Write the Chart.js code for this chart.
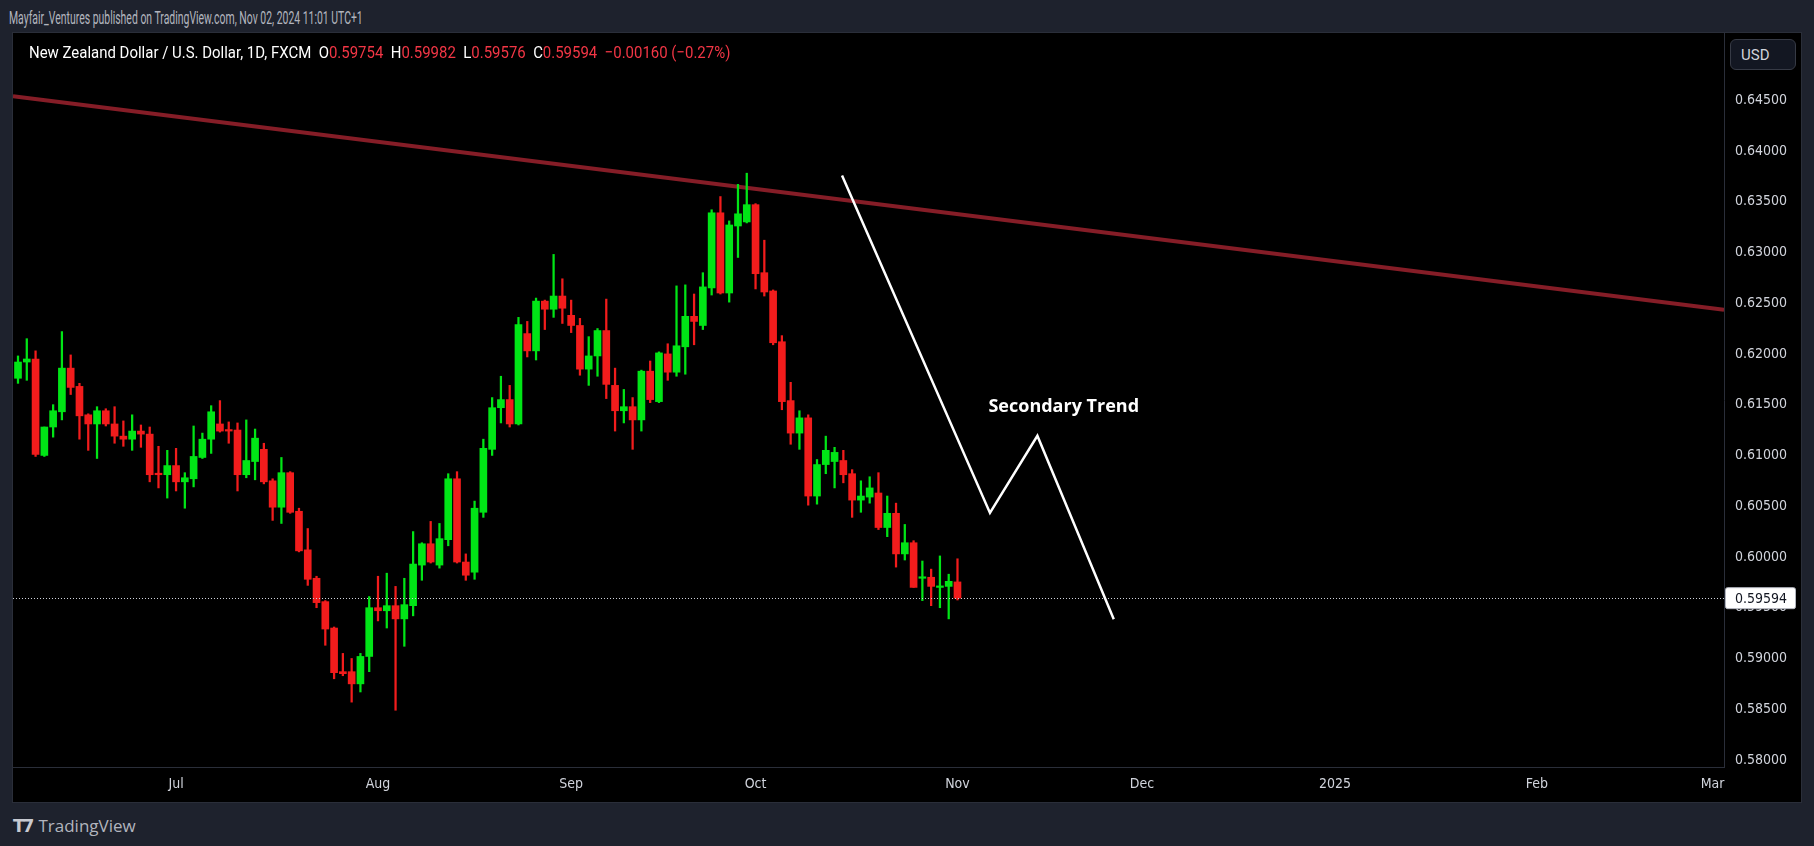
<!DOCTYPE html>
<html><head><meta charset="utf-8">
<script src="https://cdn.jsdelivr.net/npm/chart.js@4.4.1/dist/chart.umd.min.js"></script>
<style>
html,body{margin:0;padding:0;background:#1e222d;width:1814px;height:846px;overflow:hidden;font-family:'Roboto','DejaVu Sans',sans-serif;}
#hdr{position:absolute;left:9px;top:7px;color:#b2b5be;font-size:18px;transform:scaleX(0.58);transform-origin:0 0;white-space:nowrap;}
#panel{position:absolute;left:13px;top:33px;width:1788px;height:769px;background:#000;box-shadow:0 0 0 1px #2a2e39;}
#legend{position:absolute;left:16px;top:9px;color:#fff;font-size:17px;z-index:2;white-space:pre;transform:scaleX(0.88);transform-origin:0 0;}
#legend .r{color:#f23645;}
#usd{position:absolute;left:1717px;top:6px;width:66px;height:31px;border:1px solid #363a45;border-radius:6px;background:#131722;color:#d1d4dc;font-size:15px;line-height:31px;padding-left:10px;box-sizing:border-box;z-index:2;}
#tv{position:absolute;left:13px;top:814px;color:#b2b5be;font-size:17px;font-family:'Open Sans','Roboto',sans-serif;}
#tv b{font-family:'DejaVu Sans',sans-serif;font-weight:900;color:#c7cad1;letter-spacing:-2px;margin-right:6px;}
canvas{position:absolute;left:0;top:0;}
</style></head><body>
<div id="hdr">Mayfair_Ventures published on TradingView.com, Nov 02, 2024 11:01 UTC+1</div>
<div id="panel">
<div id="legend">New Zealand Dollar / U.S. Dollar, 1D, FXCM  O<span class="r">0.59754</span>  H<span class="r">0.59982</span>  L<span class="r">0.59576</span>  C<span class="r">0.59594</span>  <span class="r">−0.00160 (−0.27%)</span></div>
<div id="usd">USD</div>
<canvas id="c" width="1788" height="769"></canvas>
</div>
<div id="tv"><b>T7</b>TradingView</div>
<script>
const opens=[.6176,.6192,.6195,.6100,.6128,.6143,.6186,.6168,.6140,.6131,.6144,.6131,.6119,.6116,.6124,.6121,.6082,.6081,.6090,.6074,.6077,.6098,.6116,.6131,.6125,.6125,.6081,.6094,.6106,.6075,.6049,.6083,.6045,.6007,.5979,.5956,.5930,.5887,.5887,.5875,.5902,.5950,.5947,.5952,.5939,.5952,.5992,.6013,.5992,.6017,.6077,.5995,.5985,.6044,.6106,.6147,.6155,.6131,.6220,.6203,.6252,.6244,.6257,.6238,.6228,.6185,.6198,.6223,.6169,.6144,.6148,.6135,.6183,.6153,.6200,.6182,.6207,.6237,.6228,.6265,.6339,.6260,.6326,.6330,.6347,.6280,.6262,.6212,.6154,.6122,.6137,.6060,.6091,.6094,.6095,.6082,.6056,.6059,.6063,.6029,.6043,.6003,.6014,.5979,.5980,.5970,.5971,.59754];
const highs=[.6198,.6215,.6203,.6128,.6150,.6222,.6199,.6171,.6141,.6148,.6146,.6148,.6134,.6140,.6130,.6128,.6109,.6105,.6107,.6083,.6129,.6122,.6149,.6154,.6133,.6132,.6135,.6126,.6112,.6077,.6098,.6084,.6048,.6028,.5981,.5957,.5931,.5905,.5900,.5905,.5961,.5981,.5984,.5971,.5979,.6025,.6014,.6035,.6033,.6082,.6084,.6003,.6055,.6116,.6157,.6178,.6169,.6236,.6232,.6255,.6253,.6298,.6274,.6253,.6235,.6217,.6225,.6254,.6186,.6165,.6157,.6184,.6193,.6202,.6210,.6267,.6268,.6259,.6280,.6342,.6355,.6331,.6367,.6378,.6348,.6312,.6263,.6218,.6172,.6144,.6140,.6096,.6119,.6108,.6105,.6086,.6075,.6079,.6083,.6060,.6053,.6032,.6016,.5996,.5988,.6001,.5983,.59982];
const lows=[.6171,.6174,.6099,.6099,.6118,.6135,.6160,.6116,.6105,.6097,.6129,.6112,.6109,.6105,.6108,.6074,.6068,.6058,.6065,.6048,.6069,.6097,.6102,.6123,.6112,.6065,.6078,.6076,.6072,.6036,.6033,.6043,.6005,.5972,.5950,.5913,.5880,.5883,.5857,.5867,.5887,.5937,.5930,.5849,.5912,.5942,.5977,.5994,.5989,.6011,.5994,.5977,.5978,.6039,.6100,.6132,.6128,.6130,.6197,.6194,.6224,.6236,.6230,.6221,.6179,.6169,.6178,.6156,.6124,.6132,.6106,.6124,.6152,.6152,.6174,.6178,.6180,.6209,.6224,.6258,.6259,.6251,.6295,.6329,.6264,.6257,.6209,.6145,.6111,.6106,.6051,.6052,.6082,.6068,.6073,.6039,.6044,.6053,.6027,.6020,.5990,.5997,.5970,.5957,.5952,.5950,.5939,.59576];
const closes=[.6192,.6195,.6101,.6128,.6144,.6186,.6167,.6139,.6131,.6144,.6131,.6119,.6116,.6124,.6121,.6081,.6081,.6090,.6074,.6078,.6099,.6116,.6143,.6124,.6124,.6081,.6095,.6117,.6074,.6049,.6083,.6044,.6006,.5978,.5955,.5929,.5886,.5885,.5875,.5902,.5950,.5947,.5952,.5939,.5953,.5993,.6013,.5995,.6018,.6077,.5995,.5982,.6048,.6107,.6147,.6155,.6131,.6229,.6203,.6252,.6244,.6257,.6245,.6228,.6185,.6198,.6223,.6170,.6144,.6148,.6135,.6183,.6155,.6201,.6182,.6208,.6237,.6232,.6266,.6339,.6260,.6327,.6338,.6347,.6279,.6261,.6211,.6153,.6122,.6137,.6060,.6091,.6105,.6103,.6081,.6056,.6060,.6068,.6029,.6043,.6003,.6014,.5970,.5980,.5971,.5971,.5976,.59594];
const monthTickIdx=[18,41,63,84,107,128,150,173,193];
const monthTickLabels=['Jul','Aug','Sep','Oct','Nov','Dec','2025','Feb','Mar'];
const priceTicks=[0.580,0.585,0.590,0.595,0.600,0.605,0.610,0.615,0.620,0.625,0.630,0.635,0.640,0.645];
const resistanceLine=[[-0.57,0.64537],[194.3,0.62436]];
const projectionPath=[[93.85,0.63757],[110.7,0.60434],[116.1,0.61193],[124.8,0.59387]];
const annotationText='Secondary Trend';
const annotationPos=[119.1,0.61478];
const lastPrice=0.59594;

const UP='#00e516',DN='#f21c1c';
const cols=opens.map((o,i)=>closes[i]>=o?UP:DN);
const wicks=opens.map((o,i)=>({x:i,y:[lows[i],highs[i]]}));
const bodies=opens.map((o,i)=>({x:i,y:[Math.min(o,closes[i]),Math.max(o,closes[i])]}));

const overlay={id:'overlay',
beforeDatasetsDraw(ch){const {ctx,chartArea:a,scales:{x,y}}=ch;ctx.save();ctx.beginPath();ctx.rect(a.left,a.top,a.right-a.left,a.bottom-a.top);ctx.clip();
 ctx.strokeStyle='#851d27';ctx.lineWidth=4;ctx.beginPath();ctx.moveTo(x.getPixelForValue(resistanceLine[0][0]),y.getPixelForValue(resistanceLine[0][1]));ctx.lineTo(x.getPixelForValue(resistanceLine[1][0]),y.getPixelForValue(resistanceLine[1][1]));ctx.stroke();
 ctx.restore();},
afterDatasetsDraw(ch){const {ctx,chartArea:a,scales:{x,y}}=ch;ctx.save();
 const py=Math.round(y.getPixelForValue(lastPrice))+0.5;ctx.strokeStyle='#d1d4dc';ctx.lineWidth=1;ctx.setLineDash([1,2]);ctx.beginPath();ctx.moveTo(a.left,py);ctx.lineTo(a.right,py);ctx.stroke();ctx.setLineDash([]);
 ctx.strokeStyle='#ffffff';ctx.lineWidth=2.5;ctx.beginPath();projectionPath.forEach((p,i)=>{const px=x.getPixelForValue(p[0]),pyy=y.getPixelForValue(p[1]);i?ctx.lineTo(px,pyy):ctx.moveTo(px,pyy);});ctx.stroke();
 ctx.fillStyle='#fff';ctx.font="bold 18px 'Open Sans','Roboto',sans-serif";ctx.textAlign='center';ctx.textBaseline='middle';ctx.fillText(annotationText,x.getPixelForValue(annotationPos[0]),y.getPixelForValue(annotationPos[1]));
 ctx.restore();},
afterDraw(ch){const {ctx,chartArea:a,scales:{y}}=ch;const py=y.getPixelForValue(lastPrice);ctx.save();
 ctx.fillStyle='#fff';ctx.strokeStyle='#b2b5be';ctx.lineWidth=1;ctx.beginPath();ctx.roundRect(a.right+1.5,py-10.5,70,21,2);ctx.fill();ctx.stroke();
 ctx.fillStyle='#131722';ctx.font="14px 'DejaVu Sans Condensed','DejaVu Sans',sans-serif";ctx.textAlign='left';ctx.textBaseline='middle';ctx.fillText(lastPrice.toFixed(5),a.right+11,py+1);ctx.restore();}
};

new Chart(document.getElementById('c'),{
 type:'bar',
 data:{datasets:[
  {data:wicks,backgroundColor:cols,barThickness:1.6,grouped:false,minBarLength:1,order:2},
  {data:bodies,backgroundColor:cols,barThickness:7,grouped:false,minBarLength:1.5,order:1}
 ]},
 options:{responsive:false,animation:false,devicePixelRatio:1,
  layout:{padding:0},
  plugins:{legend:{display:false},tooltip:{enabled:false}},
  scales:{
   x:{type:'linear',min:-0.57,max:194.3,offset:false,
     grid:{display:false,drawTicks:false},border:{color:'#2a2e39',width:1},
     afterBuildTicks(s){s.ticks=monthTickIdx.map(v=>({value:v}));},
     afterFit(s){s.height=35;s.paddingLeft=0;s.paddingRight=0;},
     ticks:{autoSkip:false,maxRotation:0,padding:9,color:'#d1d4dc',font:{size:14,family:"'DejaVu Sans Condensed','DejaVu Sans',sans-serif"},
       callback:(v)=>{const i=monthTickIdx.indexOf(v);return i>=0?monthTickLabels[i]:'';}}},
   y:{position:'right',min:0.57931,max:0.65161,
     grid:{display:false,drawTicks:false},border:{color:'#2a2e39',width:1},
     afterBuildTicks(s){s.ticks=priceTicks.map(v=>({value:v}));},
     afterFit(s){s.width=77;s.paddingTop=0;s.paddingBottom=0;},
     ticks:{padding:11,color:'#d1d4dc',font:{size:14,family:"'DejaVu Sans Condensed','DejaVu Sans',sans-serif"},callback:v=>Number(v).toFixed(5)}}
  }},
 plugins:[overlay]
});
</script>
</body></html>
